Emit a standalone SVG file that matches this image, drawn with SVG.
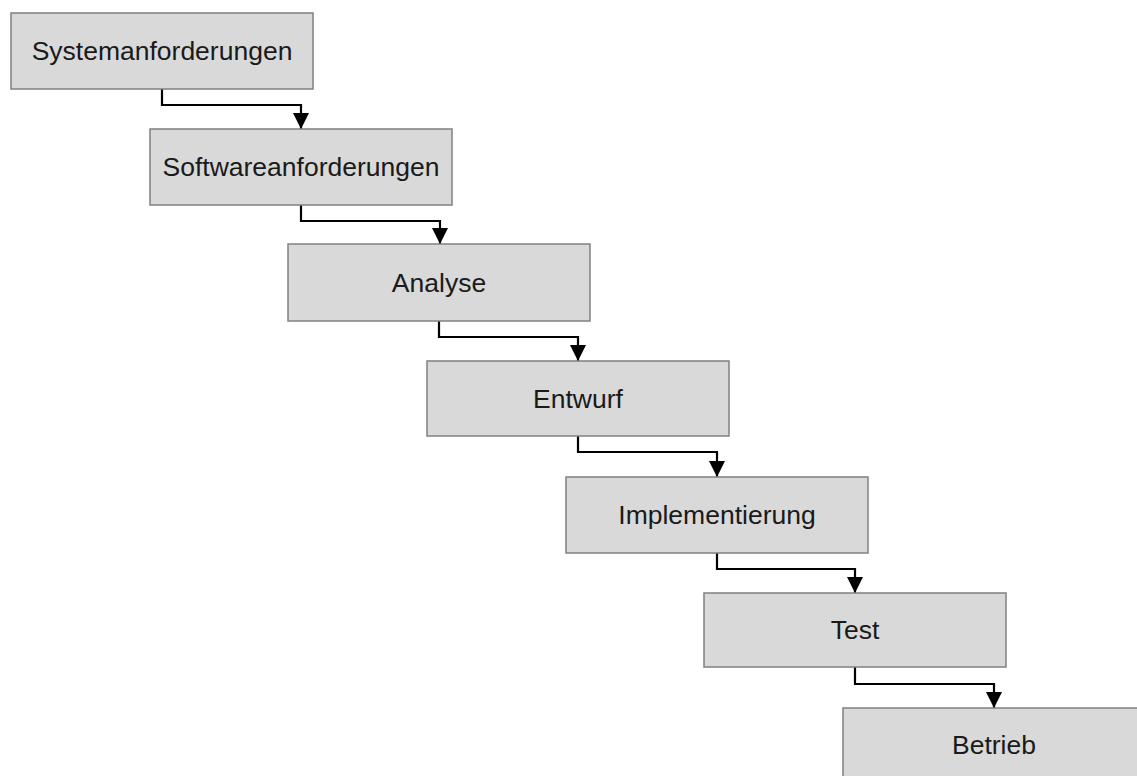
<svg xmlns="http://www.w3.org/2000/svg" width="1137" height="776" viewBox="0 0 1137 776">
  <style>
    .box { fill: #d9d9d9; stroke: #808080; stroke-width: 1.5; }
    .lbl { font-family: "Liberation Sans", Arial, sans-serif; font-size: 26.5px; fill: #1a1a1a; text-anchor: middle; dominant-baseline: central; }
    .conn { fill: none; stroke: #000; stroke-width: 2.2; }
  </style>
  <defs>
    <marker id="arrow" viewBox="0 0 16 16" refX="16" refY="8" markerWidth="16" markerHeight="16" markerUnits="userSpaceOnUse" orient="auto">
      <path d="M0,0 L16,8 L0,16 Z" fill="#000"/>
    </marker>
  </defs>
  <rect width="1137" height="776" fill="#fff"/>

  <g id="connectors">
    <path class="conn" marker-end="url(#arrow)" d="M162,89 V105 H301 V129"/>
    <path class="conn" marker-end="url(#arrow)" d="M301,205 V221 H440 V244"/>
    <path class="conn" marker-end="url(#arrow)" d="M439,321 V337 H578 V361"/>
    <path class="conn" marker-end="url(#arrow)" d="M578,436 V452 H717 V477"/>
    <path class="conn" marker-end="url(#arrow)" d="M717,553 V569 H855 V593"/>
    <path class="conn" marker-end="url(#arrow)" d="M855,667 V684 H994 V708"/>
  </g>

  <g id="systemanforderungen">
    <rect class="box" x="11" y="13" width="302" height="76"/>
    <text class="lbl" x="162" y="51">Systemanforderungen</text>
  </g>
  <g id="softwareanforderungen">
    <rect class="box" x="150" y="129" width="302" height="76"/>
    <text class="lbl" x="301" y="167">Softwareanforderungen</text>
  </g>
  <g id="analyse">
    <rect class="box" x="288" y="244" width="302" height="77"/>
    <text class="lbl" x="439" y="283">Analyse</text>
  </g>
  <g id="entwurf">
    <rect class="box" x="427" y="361" width="302" height="75"/>
    <text class="lbl" x="578" y="399">Entwurf</text>
  </g>
  <g id="implementierung">
    <rect class="box" x="566" y="477" width="302" height="76"/>
    <text class="lbl" x="717" y="515">Implementierung</text>
  </g>
  <g id="test">
    <rect class="box" x="704" y="593" width="302" height="74"/>
    <text class="lbl" x="855" y="630">Test</text>
  </g>
  <g id="betrieb">
    <rect class="box" x="843" y="708" width="302" height="76"/>
    <text class="lbl" x="994" y="745">Betrieb</text>
  </g>
</svg>
